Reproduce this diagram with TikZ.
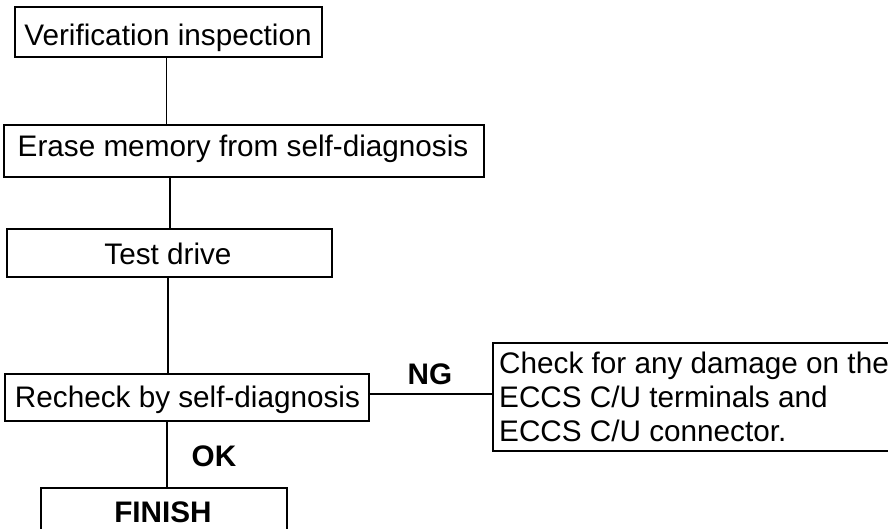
\documentclass[tikz,border=0pt]{standalone}
\usepackage{fontspec}
\setmainfont{Liberation Sans}
\begin{document}
\begin{tikzpicture}[x=1pt,y=-1pt,
  boxst/.style={draw=black, line width=1.8pt, inner sep=0pt, minimum width=#1},
  txt/.style={font={\fontsize{29.7pt}{34pt}\selectfont}, inner sep=0pt, anchor=base},
  lbl/.style={font={\fontsize{29.7pt}{34pt}\selectfont\bfseries}, inner sep=0pt, anchor=base},
  conn/.style={draw=black, line width=1.3pt}]
\useasboundingbox (0,0) rectangle (888,528);
\clip (0,0) rectangle (888,528);
\fill[white] (0,0) rectangle (888,528);
% boxes
\node[boxst=307pt, minimum height=50pt] (b1) at (168.5,32) {};
\node[boxst=480pt, minimum height=52pt] (b2) at (244,151) {};
\node[boxst=325pt, minimum height=48pt] (b3) at (169.5,253) {};
\node[boxst=364pt, minimum height=47pt] (b4) at (187,397.5) {};
\node[boxst=420pt, minimum height=108pt] (b5) at (703,397) {};
\node[boxst=246pt, minimum height=60pt] (b6) at (164,518) {};
% texts
\node[txt] (t1) at (168,45) {Verification inspection};
\node[txt] (t2) at (243,156) {Erase memory from self-diagnosis};
\node[txt] (t3) at (168,264) {Test drive};
\node[txt] (t4) at (187.5,407) {Recheck by self-diagnosis};
\node[txt, anchor=base west] (t5a) at (499,373) {Check for any damage on the};
\node[txt, anchor=base west] (t5b) at (499,407) {ECCS C/U terminals and};
\node[txt, anchor=base west] (t5c) at (499,441) {ECCS C/U connector.};
\node[lbl] (t6) at (163,522) {FINISH};
\node[lbl] (ng) at (430,384) {NG};
\node[lbl] (ok) at (214,466) {OK};
% spine coordinates
\coordinate (s1) at (166,0);
\coordinate (s2) at (170,0);
\coordinate (s3) at (168,0);
\coordinate (s4) at (167,0);
\coordinate (ny) at (0,394);
% connectors
\draw[conn, line width=1pt] (b1.south -| s1) -- (b2.north -| s1);
\draw[conn] (b2.south -| s2) -- (b3.north -| s2);
\draw[conn, line width=1.1pt] (b3.south -| s3) -- (b4.north -| s3);
\draw[conn] (b4.south -| s4) -- (b6.north -| s4);
\draw[conn] (b4.east |- ny) -- (b5.west |- ny);
\end{tikzpicture}
\end{document}
